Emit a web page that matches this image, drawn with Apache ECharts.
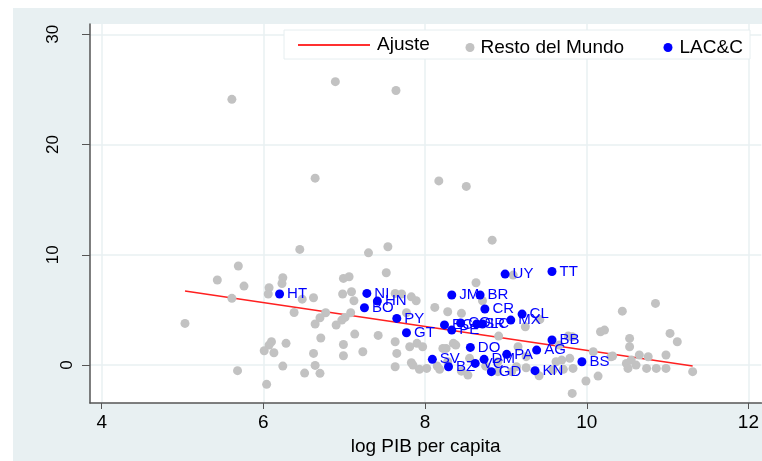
<!DOCTYPE html>
<html>
<head>
<meta charset="utf-8">
<script src="https://cdn.jsdelivr.net/npm/echarts@6/dist/echarts.min.js"></script>
<style>
html,body{margin:0;padding:0;background:#fff;}
#chart{width:762px;height:461px;}
</style>
</head>
<body>
<div id="chart"></div>
<script>
// ticks
var xTicks=[4,6,8,10,12];
var yTicks=[0,10,20,30];

// linea de ajuste (extremos)
var fitX=[5.03,11.31];
var fitY=[6.71,-0.09];

// Resto del Mundo
var restX=[5.61,6.89,7.64,6.64,8.17,8.51,8.83,7.54,6.45,7.30,
    5.69,7.52,5.43,6.24,6.99,7.06,8.63,9.09,6.23,5.76,
    6.07,6.06,6.98,7.09,7.63,7.71,7.83,8.71,5.61,6.48,
    6.62,7.12,7.89,6.38,6.77,7.08,7.77,8.12,8.28,8.45,
    9.42,10.44,10.85,5.03,6.70,6.64,7.01,6.97,6.90,9.24,
    7.13,7.42,6.71,8.91,9.82,9.77,10.17,10.22,11.03,10.53,
    11.12,6.10,6.07,6.28,7.63,6.99,7.90,7.81,7.97,8.35,
    8.26,8.38,8.22,9.15,9.66,10.53,6.01,6.13,6.62,7.23,
    6.99,7.65,10.08,10.65,10.76,10.98,10.30,10.32,7.83,8.55,
    8.28,8.90,9.25,9.79,9.69,9.62,10.55,10.49,10.61,5.68,
    6.24,6.51,6.64,6.70,6.04,7.63,7.93,7.85,8.15,8.18,
    8.53,8.90,9.07,9.13,9.25,9.41,9.58,9.71,9.83,10.14,
    9.99,9.82,10.51,10.74,10.86,10.98,11.31,8.02,8.45,8.75];
var restY=[24.1,25.7,24.9,16.95,16.7,16.2,11.33,10.73,10.49,10.18,
    8.98,8.37,7.71,7.92,7.86,8.01,7.46,8.16,7.40,7.16,
    7.01,6.44,6.44,6.65,6.5,6.44,6.19,5.83,6.05,5.98,
    6.10,5.83,5.83,4.77,4.74,4.74,4.74,5.23,4.83,4.69,
    4.14,4.89,5.59,3.78,4.29,3.72,4.32,4.08,3.63,3.47,
    2.81,2.69,2.45,2.63,2.57,2.63,3.02,3.17,2.87,2.42,
    2.11,2.11,1.81,1.97,2.11,1.87,1.97,1.66,1.66,1.97,
    1.51,1.81,1.51,1.66,1.81,1.66,1.30,1.12,1.06,1.21,
    0.85,1.06,1.21,0.91,0.75,0.91,0.75,0.82,0.21,0.61,
    0.30,0.30,0.76,0.61,0.45,0.30,0.45,0.15,0.00,-0.51,
    -0.09,-0.73,-0.03,-0.75,-1.75,-0.15,-0.39,0.00,-0.09,-0.39,
    -0.91,-0.60,-0.60,-0.15,-0.24,-0.97,-0.45,-0.39,-0.30,-1.00,
    -1.45,-2.57,-0.30,-0.30,-0.30,-0.30,-0.60,-0.30,-0.55,-0.10];

// LAC&C
var lacCodes=["HT","NI","HN","BO","PY","GT","JM","BR","UY","TT",
    "CR","CL","MX","EC","CO","SR","LC","PE","DO","PA",
    "AG","BB","BS","KN","GD","DM","VC","BZ","SV"];
var lacX=[6.20,7.28,7.41,7.25,7.65,7.77,8.33,8.68,8.99,9.57,
    8.74,9.20,9.06,8.24,8.44,8.64,8.71,8.33,8.56,9.01,
    9.38,9.57,9.94,9.36,8.82,8.73,8.62,8.29,8.09];
var lacY=[6.44,6.50,5.80,5.20,4.23,2.93,6.35,6.35,8.25,8.49,
    5.08,4.62,4.08,3.64,3.82,3.72,3.72,3.17,1.60,0.97,
    1.36,2.27,0.30,-0.51,-0.60,0.52,0.15,-0.15,0.52];

var fitData=fitX.map(function(v,i){return [v,fitY[i]];});
var restData=restX.map(function(v,i){return [v,restY[i]];});
var lacData=lacX.map(function(v,i){return {name:lacCodes[i],value:[v,lacY[i]]};});

var font="Liberation Sans";
var chart=echarts.init(document.getElementById("chart"));
var option={
    animation:false,
    textStyle:{fontFamily:font},
    graphic:[
        {type:"rect",z:-100,shape:{x:13,y:8,width:749,height:453},style:{fill:"#e8f0f2"}},
        {type:"rect",z:-99,shape:{x:90,y:24,width:672,height:379},style:{fill:"#ffffff"}},
        {type:"rect",z:3,shape:{x:284,y:30,width:466,height:29},style:{fill:"#ffffff",stroke:"#e6eef0",lineWidth:1}}
    ],
    grid:{left:90,right:0,top:24,bottom:58},
    legend:[
        {left:293,top:30.5,itemWidth:72,itemHeight:2,icon:"rect",data:["Ajuste"],z:5,
            textStyle:{fontFamily:font,fontSize:19,color:"#000",padding:[0,0,0,2]}},
        {left:460.5,top:33,itemWidth:9,itemHeight:9,icon:"circle",data:["Resto del Mundo"],z:5,
            textStyle:{fontFamily:font,fontSize:19,color:"#000",padding:[0,0,0,1]}},
        {left:658.5,top:33,itemWidth:9,itemHeight:9,icon:"circle",data:["LAC&C"],z:5,
            textStyle:{fontFamily:font,fontSize:19,color:"#000",padding:[0,0,0,2]}}
    ],
    xAxis:{
        type:"value",min:3.855,max:12.16,
        name:"log PIB per capita",nameLocation:"middle",nameGap:26,
        nameTextStyle:{fontFamily:font,fontSize:19,color:"#000"},
        axisLine:{show:true,onZero:false,lineStyle:{color:"#555",width:1.5}},
        axisTick:{show:true,length:6,customValues:xTicks,lineStyle:{color:"#555"}},
        axisLabel:{customValues:xTicks,fontSize:19,color:"#000",margin:10,fontFamily:font},
        splitLine:{show:true,lineStyle:{color:"#e8f0f2",width:1.5}}
    },
    yAxis:{
        type:"value",min:-3.44,max:30.93,
        axisLine:{show:true,onZero:false,lineStyle:{color:"#555",width:1.5}},
        axisTick:{show:true,length:8,customValues:yTicks,lineStyle:{color:"#555"}},
        axisLabel:{customValues:yTicks,fontSize:17,color:"#000",margin:14,rotate:90,fontFamily:font,
            // el cero va mas cerca del eje, como en el original
            formatter:function(v){return v===0?"{z|0}":"{n|"+v+"}";},
            rich:{z:{fontSize:17,fontFamily:font,color:"#000"},
                n:{fontSize:17,fontFamily:font,color:"#000",padding:[0,0,14,0]}}},
        splitLine:{show:true,lineStyle:{color:"#e8f0f2",width:1.5}}
    },
    series:[
        {name:"Ajuste",type:"line",data:fitData,showSymbol:false,symbol:"none",z:2,
            lineStyle:{color:"#ff2020",width:1.5},itemStyle:{color:"#ff3030"}},
        {name:"Resto del Mundo",type:"scatter",data:restData,symbolSize:9,z:3,
            itemStyle:{color:"#c2c2c2",opacity:1}},
        {name:"LAC&C",type:"scatter",data:lacData,symbolSize:9,z:4,
            itemStyle:{color:"#0000ff",opacity:1},
            label:{show:true,position:"right",distance:3,color:"#0000ff",fontSize:15,fontFamily:font,
                formatter:function(p){return p.name;}}}
    ]
};
chart.setOption(option);
</script>
</body>
</html>
